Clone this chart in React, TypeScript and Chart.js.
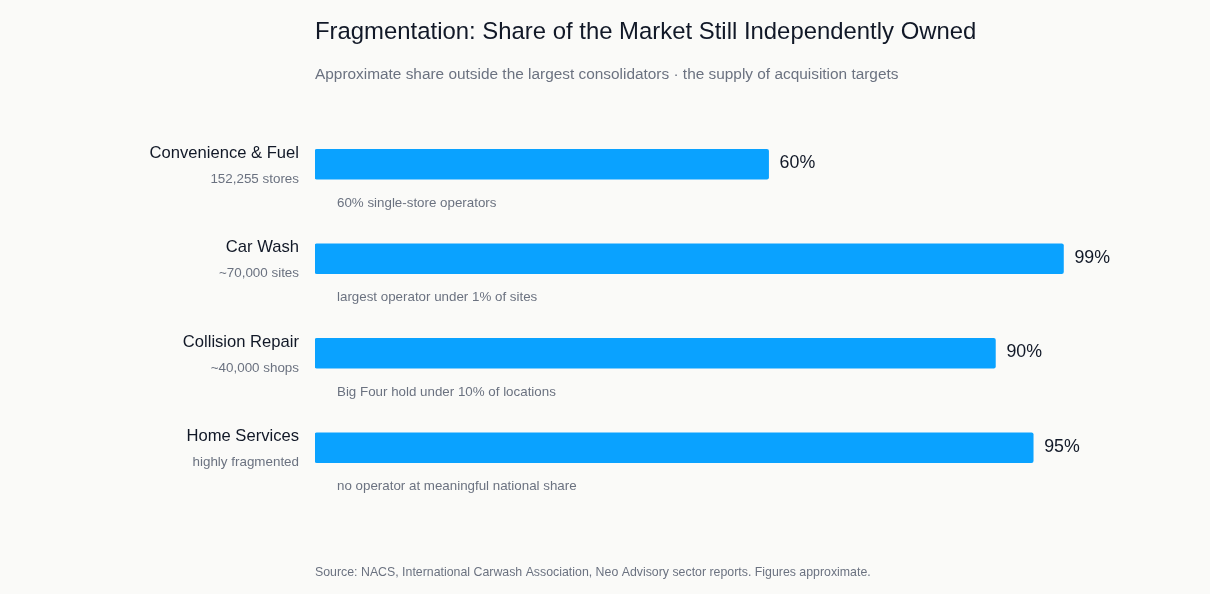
import React, { useEffect, useRef } from 'react';
import { Chart, registerables } from 'chart.js';
import type { Plugin } from 'chart.js';

Chart.register(...registerables);

const categories = ['Convenience & Fuel', 'Car Wash', 'Collision Repair', 'Home Services'];
const sublabels = ['152,255 stores', '~70,000 sites', '~40,000 shops', 'highly fragmented'];
const independentShare = [60, 99, 90, 95];
const notes = [
  '60% single-store operators',
  'largest operator under 1% of sites',
  'Big Four hold under 10% of locations',
  'no operator at meaningful national share',
];

const TITLE = 'Fragmentation: Share of the Market Still Independently Owned';
const SUBTITLE = 'Approximate share outside the largest consolidators · the supply of acquisition targets';
const SOURCE = 'Source: NACS, International Carwash Association, Neo Advisory sector reports. Figures approximate.';

const FONT = '"Helvetica Neue", Helvetica, Arial, "Liberation Sans", sans-serif';
const BG = '#fafaf8';
const BAR = '#0aa2ff';
const INK = '#111827';
const MUTED = '#6b7280';

// draws titles, row labels, value labels and notes around the bars
const annotations: Plugin<'bar'> = {
  id: 'annotations',
  afterDatasetsDraw(chart) {
    const { ctx, chartArea } = chart;
    const meta = chart.getDatasetMeta(0);
    const left = chartArea.left;
    ctx.save();
    ctx.textBaseline = 'middle';

    ctx.fillStyle = INK;
    ctx.font = `23.9px ${FONT}`;
    ctx.textAlign = 'left';
    ctx.fillText(TITLE, left, 32);

    ctx.fillStyle = MUTED;
    ctx.font = `15.4px ${FONT}`;
    ctx.fillText(SUBTITLE, left, 75);

    ctx.font = `12.35px ${FONT}`;
    ctx.fillText(SOURCE, left, 573);

    meta.data.forEach((el, i) => {
      const bar = el as unknown as { x: number; y: number; height: number };
      const top = bar.y - bar.height / 2;
      const bottom = bar.y + bar.height / 2;

      ctx.textAlign = 'right';
      ctx.fillStyle = INK;
      ctx.font = `16.6px ${FONT}`;
      ctx.fillText(categories[i], left - 16, top + 4);
      ctx.fillStyle = MUTED;
      ctx.font = `13.4px ${FONT}`;
      ctx.fillText(sublabels[i], left - 16, top + 30);

      ctx.textAlign = 'left';
      ctx.fillStyle = INK;
      ctx.font = `17.8px ${FONT}`;
      ctx.fillText(`${independentShare[i]}%`, bar.x + 11, bar.y - 1);

      ctx.fillStyle = MUTED;
      ctx.font = `13.35px ${FONT}`;
      ctx.fillText(notes[i], left + 22, bottom + 24);
    });
    ctx.restore();
  },
};

export default function App() {
  const canvasRef = useRef<HTMLCanvasElement | null>(null);

  useEffect(() => {
    document.body.style.margin = '0';
    document.body.style.background = BG;
    const canvas = canvasRef.current;
    if (!canvas) return;

    const chart = new Chart(canvas, {
      type: 'bar',
      data: {
        labels: categories,
        datasets: [
          {
            data: independentShare,
            backgroundColor: BAR,
            borderRadius: 2,
            borderSkipped: false,
            barThickness: 30,
          },
        ],
      },
      options: {
        indexAxis: 'y',
        animation: false,
        responsive: true,
        maintainAspectRatio: false,
        layout: { padding: { left: 315, right: 139, top: 117, bottom: 99 } },
        plugins: {
          legend: { display: false },
          tooltip: { enabled: false },
        },
        scales: {
          x: { min: 0, max: 100, display: false },
          y: { display: false },
        },
      },
      plugins: [annotations],
    });

    return () => chart.destroy();
  }, []);

  return (
    <div style={{ width: 1210, height: 594, background: BG, position: 'relative' }}>
      <canvas ref={canvasRef} />
    </div>
  );
}
